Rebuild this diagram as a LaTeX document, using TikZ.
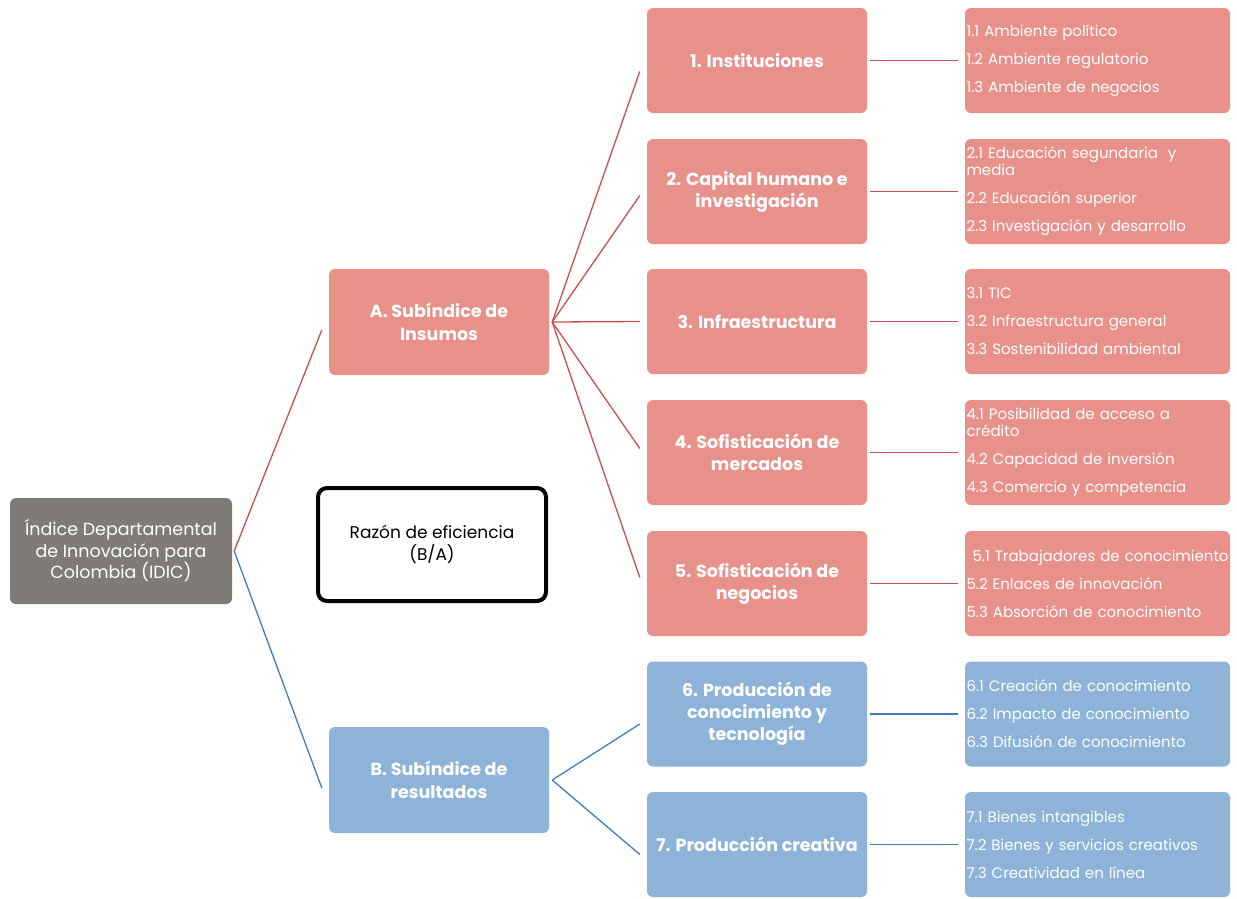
\documentclass[tikz,border=0pt]{standalone}
\usepackage{fontspec}
\setmainfont{Poppins}
\definecolor{boxred}{HTML}{E8908A}
\definecolor{boxblue}{HTML}{8DB3D8}
\definecolor{boxgray}{HTML}{7F7B76}
\definecolor{linered}{HTML}{C9504F}
\definecolor{lineblue}{HTML}{3F7DBB}
\tikzset{
  base/.style={rounded corners=6pt, inner sep=0pt, align=center, text=white},
  rootbox/.style={base, fill=boxgray, minimum width=222pt, minimum height=106pt, font=\fontsize{17.5}{21.5}\selectfont},
  subbox/.style={base, minimum width=220pt, minimum height=106pt, font=\bfseries\fontsize{17.5}{23}\selectfont},
  pilbox/.style={base, minimum width=220pt, minimum height=105pt, font=\bfseries\fontsize{17.5}{22}\selectfont},
  detbox/.style={base, minimum width=265pt, minimum height=105pt, inner xsep=1.5pt, text width=262pt, align=left, font=\fontsize{15}{17}\selectfont},
  redc/.style={draw=linered, line width=1.3pt},
  bluec/.style={draw=lineblue, line width=1.3pt},
}
\begin{document}
\begin{tikzpicture}[x=1pt,y=-1pt]
\useasboundingbox (0,0) rectangle (1237,898);
\fill[white] (0,0) rectangle (1237,898);
% root
\node[rootbox] (root) at (121,551) {Índice Departamental\\de Innovación para\\Colombia (IDIC)};
\node[subbox, fill=boxred] (A) at (439,322) {A. Subíndice de\\Insumos};
\node[subbox, fill=boxblue] (B) at (439,780) {B. Subíndice de\\resultados};
\node[draw=black, line width=4pt, rounded corners=9pt, minimum width=228pt, minimum height=113pt, align=center, font=\fontsize{17}{22}\selectfont] (razon) at (432,544.5) {Razón de eficiencia\\(B/A)};
% pillars
\node[pilbox, fill=boxred] (p1) at (757,60.5) {1. Instituciones};
\node[pilbox, fill=boxred] (p2) at (757,191.5) {2. Capital humano e\\investigación};
\node[pilbox, fill=boxred] (p3) at (757,321.5) {3. Infraestructura};
\node[pilbox, fill=boxred] (p4) at (757,452.5) {4. Sofisticación de\\mercados};
\node[pilbox, fill=boxred] (p5) at (757,583.5) {5. Sofisticación de\\negocios};
\node[pilbox, fill=boxblue] (p6) at (757,714) {6. Producción de\\conocimiento y\\tecnología};
\node[pilbox, fill=boxblue] (p7) at (757,844.5) {7. Producción creativa};
% details
\node[detbox, fill=boxred] (d1) at (1097.5,60.5) {1.1 Ambiente político\\[11pt]1.2 Ambiente regulatorio\\[11pt]1.3 Ambiente de negocios};
\node[detbox, fill=boxred] (d2) at (1097.5,191.5) {2.1 Educación segundaria\ \ y\\media\\[11pt]2.2 Educación superior\\[11pt]2.3 Investigación y desarrollo};
\node[detbox, fill=boxred] (d3) at (1097.5,321.5) {3.1 TIC\\[11pt]3.2 Infraestructura general\\[11pt]3.3 Sostenibilidad ambiental};
\node[detbox, fill=boxred] (d4) at (1097.5,452.5) {4.1 Posibilidad de acceso a\\crédito\\[11pt]4.2 Capacidad de inversión\\[11pt]4.3 Comercio y competencia};
\node[detbox, fill=boxred] (d5) at (1097.5,583.5) {\mbox{\hspace*{6pt}5.1 Trabajadores de conocimiento}\\[11pt]5.2 Enlaces de innovación\\[11pt]5.3 Absorción de conocimiento};
\node[detbox, fill=boxblue] (d6) at (1097.5,714) {6.1 Creación de conocimiento\\[11pt]6.2 Impacto de conocimiento\\[11pt]6.3 Difusión de conocimiento};
\node[detbox, fill=boxblue] (d7) at (1097.5,844.5) {7.1 Bienes intangibles\\[11pt]\mbox{7.2 Bienes y servicios creativos}\\[11pt]7.3 Creatividad en línea};
% connector coordinates
\coordinate (rj) at ([xshift=2pt]root.east);
\coordinate (ae) at ([xshift=-7pt,yshift=-8pt]A.west);
\coordinate (be) at ([xshift=-7pt,yshift=-8pt]B.west);
\coordinate (aj) at ([xshift=3pt]A.east);
\coordinate (bj) at ([xshift=3pt]B.east);
\coordinate (e1) at ([xshift=-7pt,yshift=-11pt]p1.west);
\coordinate (e2) at ([xshift=-7pt,yshift=-4pt]p2.west);
\coordinate (e3) at ([xshift=-7pt]p3.west);
\coordinate (e4) at ([xshift=-7pt,yshift=4pt]p4.west);
\coordinate (e5) at ([xshift=-7pt,yshift=6pt]p5.west);
\coordinate (e6) at ([xshift=-7pt,yshift=-10pt]p6.west);
\coordinate (e7) at ([xshift=-7pt,yshift=-10pt]p7.west);
\draw[redc] (rj) -- (ae);
\draw[bluec] (rj) -- (be);
\foreach \e in {e1,e2,e3,e4,e5} \draw[redc] (aj) -- (\e);
\foreach \e in {e6,e7} \draw[bluec] (bj) -- (\e);
\foreach \i in {1,...,5} \draw[redc] ([xshift=3pt]p\i.east) -- ([xshift=-7pt]d\i.west);
\foreach \i in {6,7} \draw[bluec] ([xshift=3pt]p\i.east) -- ([xshift=-7pt]d\i.west);
\end{tikzpicture}
\end{document}
